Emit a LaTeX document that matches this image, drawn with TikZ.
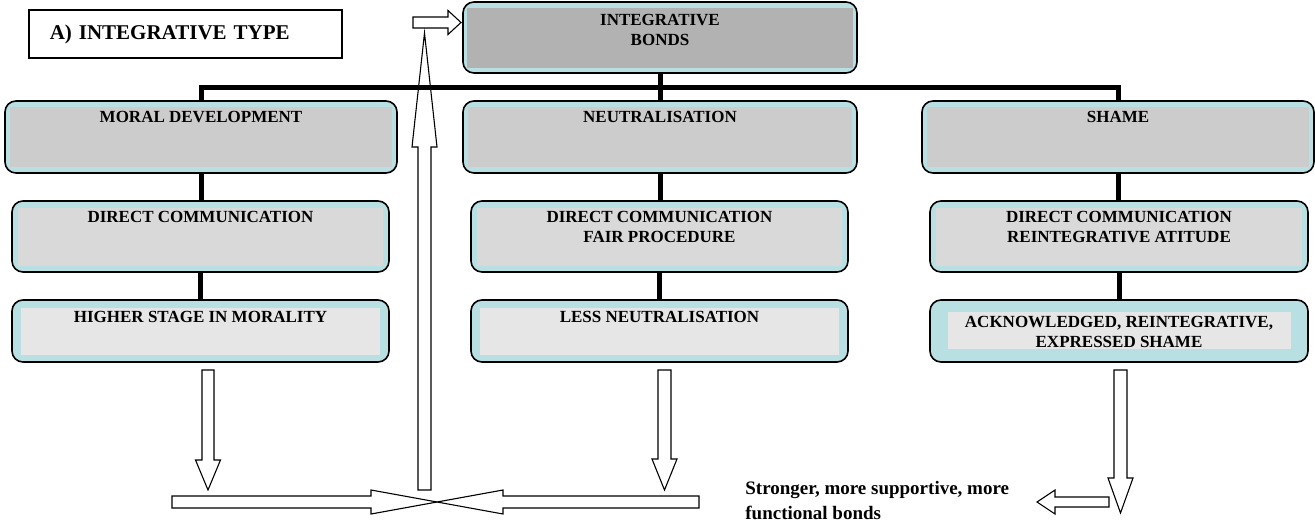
\documentclass[tikz,border=0pt]{standalone}
\usepackage{fontspec}
\setmainfont{Liberation Serif}
\usetikzlibrary{calc}

\definecolor{shellblue}{RGB}{184,223,226}
\definecolor{bondgray}{RGB}{178,178,178}
\definecolor{levelone}{RGB}{204,204,204}
\definecolor{leveltwo}{RGB}{217,217,217}
\definecolor{levelthree}{RGB}{230,230,230}

\newcommand{\cellfont}{\fontsize{17}{20}\selectfont\bfseries}
% block arrow: tail, tip, shaft half width, head half width, head length
\newcommand{\hollowarrow}[5]{%
  \coordinate (ha) at ($(#2)!#5!(#1)$);
  \draw[hollow] ($(#1)!#3!90:(#2)$) -- ($(ha)!#3!90:(#2)$) -- ($(ha)!#4!90:(#2)$) -- (#2)
    -- ($(ha)!#4!-90:(#2)$) -- ($(ha)!#3!-90:(#2)$) -- ($(#1)!#3!-90:(#2)$) -- cycle;}

\tikzset{every picture/.style={line width=0.75pt}}
\tikzset{
  shell/.style={draw=black, line width=1.6pt, rounded corners=11pt, fill=shellblue, inner sep=0pt},
  boxtext/.style={font=\cellfont, align=center, inner sep=0pt, anchor=north},
  trunk/.style={line width=5pt},
  hollow/.style={draw=black, fill=white, line width=1.1pt, line join=miter},
}

\begin{document}
\begin{tikzpicture}[x=1pt,y=1pt,yscale=-1]
\useasboundingbox (0,0) rectangle (1315,523);

% Title
\node[draw, line width=1.5pt, anchor=west, minimum width=313pt, minimum height=48pt, text width=271pt, inner xsep=21pt, inner ysep=0pt, align=left, font=\fontsize{21}{24}\selectfont\bfseries] (title) at (28,34) {A) INTEGRATIVE TYPE};

% Top box
\node[shell, minimum width=394pt, minimum height=71pt] (bonds) at (660,37.5) {};
\fill[bondgray] ($(bonds.north west)+(5,7)$) rectangle ($(bonds.south east)+(-5,-6)$);
\node[boxtext] (bondstxt) at ($(bonds.north)+(0,13)$) {INTEGRATIVE\\BONDS};

% First row
\node[shell, minimum width=392pt, minimum height=72pt] (moral) at (201,137) {};
\fill[levelone] ($(moral.north west)+(6,7)$) rectangle ($(moral.south east)+(-6,-7)$);
\node[boxtext] (moraltxt) at ($(moral.north)+(0,11)$) {MORAL DEVELOPMENT};

\node[shell, minimum width=394pt, minimum height=72pt] (neutral) at (660,137) {};
\fill[levelone] ($(neutral.north west)+(6,7)$) rectangle ($(neutral.south east)+(-6,-7)$);
\node[boxtext] (neutraltxt) at ($(neutral.north)+(0,11)$) {NEUTRALISATION};

\node[shell, minimum width=392pt, minimum height=72pt] (shame) at (1118,137) {};
\fill[levelone] ($(shame.north west)+(6,7)$) rectangle ($(shame.south east)+(-6,-7)$);
\node[boxtext] (shametxt) at ($(shame.north)+(0,11)$) {SHAME};

% Second row
\node[shell, minimum width=377pt, minimum height=71pt] (moraltwo) at (200.5,236.5) {};
\fill[leveltwo] ($(moraltwo.north west)+(7,8)$) rectangle ($(moraltwo.south east)+(-7,-7)$);
\node[boxtext] (moraltwotxt) at ($(moraltwo.north)+(0,11)$) {DIRECT COMMUNICATION};

\node[shell, minimum width=377pt, minimum height=71pt] (neutraltwo) at (659.5,236.5) {};
\fill[leveltwo] ($(neutraltwo.north west)+(7,8)$) rectangle ($(neutraltwo.south east)+(-7,-7)$);
\node[boxtext] (neutraltwotxt) at ($(neutraltwo.north)+(0,11)$) {DIRECT COMMUNICATION\\FAIR PROCEDURE};

\node[shell, minimum width=378pt, minimum height=71pt] (shametwo) at (1119,236.5) {};
\fill[leveltwo] ($(shametwo.north west)+(7,8)$) rectangle ($(shametwo.south east)+(-7,-7)$);
\node[boxtext] (shametwotxt) at ($(shametwo.north)+(0,11)$) {DIRECT COMMUNICATION\\REINTEGRATIVE ATITUDE};

% Third row
\node[shell, minimum width=377pt, minimum height=62pt] (moralthree) at (200.5,331) {};
\fill[levelthree] ($(moralthree.north west)+(10,9)$) rectangle ($(moralthree.south east)+(-10,-8)$);
\node[boxtext] (moralthreetxt) at ($(moralthree.north)+(0,12)$) {HIGHER STAGE IN MORALITY};

\node[shell, minimum width=377pt, minimum height=62pt] (neutralthree) at (659.5,331) {};
\fill[levelthree] ($(neutralthree.north west)+(10,9)$) rectangle ($(neutralthree.south east)+(-10,-8)$);
\node[boxtext] (neutralthreetxt) at ($(neutralthree.north)+(0,12)$) {LESS NEUTRALISATION};

\node[shell, minimum width=378pt, minimum height=62pt] (shamethree) at (1119,331) {};
\fill[levelthree] ($(shamethree.north west)+(19,13)$) rectangle ($(shamethree.south east)+(-18,-14)$);
\node[boxtext] (shamethreetxt) at ($(shamethree.north)+(0,17)$) {ACKNOWLEDGED, REINTEGRATIVE,\\EXPRESSED SHAME};

% Block arrows
\coordinate (feedtail) at (413,22.5);
\coordinate (feedtip) at (461,22.5);
\coordinate (risebase) at (424.5,490);
\coordinate (risetop) at (424.5,33);
\coordinate (moraldrop) at (208,370);
\coordinate (moralland) at (208,490);
\coordinate (neutdrop) at (664.5,370);
\coordinate (neutland) at (664.5,490);
\coordinate (shamedrop) at (1120.5,370);
\coordinate (shameland) at (1120.5,513);
\coordinate (leftend) at (172,502);
\coordinate (rightend) at (699,502);
\coordinate (cross) at (437,502);
\coordinate (pointtail) at (1109,502);
\coordinate (pointtip) at (1037,502);

\hollowarrow{feedtail}{feedtip}{5.5pt}{12pt}{13pt}
\hollowarrow{risebase}{risetop}{6.5pt}{12.5pt}{114pt}
\hollowarrow{moraldrop}{moralland}{6pt}{12.5pt}{30pt}
\hollowarrow{neutdrop}{neutland}{6.5pt}{12.5pt}{31pt}
\hollowarrow{shamedrop}{shameland}{6.5pt}{12.5pt}{35pt}
\hollowarrow{leftend}{cross}{6pt}{12pt}{66pt}
\hollowarrow{rightend}{cross}{6pt}{12pt}{66pt}
\hollowarrow{pointtail}{pointtip}{5pt}{12pt}{18pt}

% Thick connectors
\coordinate (bar) at (660,87.5);
\draw[trunk] (moral.north) |- (bar) -| (shame.north);
\draw[trunk] (bonds.south) -- (neutral.north);
\draw[trunk] (moral.south) -- (moral.south |- moraltwo.north);
\draw[trunk] (moraltwo.south) -- (moraltwo.south |- moralthree.north);
\draw[trunk] (neutral.south) -- (neutral.south |- neutraltwo.north);
\draw[trunk] (neutraltwo.south) -- (neutraltwo.south |- neutralthree.north);
\draw[trunk] (shame.south) -- (shame.south |- shametwo.north);
\draw[trunk] (shametwo.south) -- (shametwo.south |- shamethree.north);

% Outcome text
\node[anchor=north west, inner sep=0pt, align=left, font=\fontsize{19}{25}\selectfont\bfseries] (outcome) at (745,481) {Stronger, more supportive, more\\functional bonds};

\end{tikzpicture}
\end{document}
